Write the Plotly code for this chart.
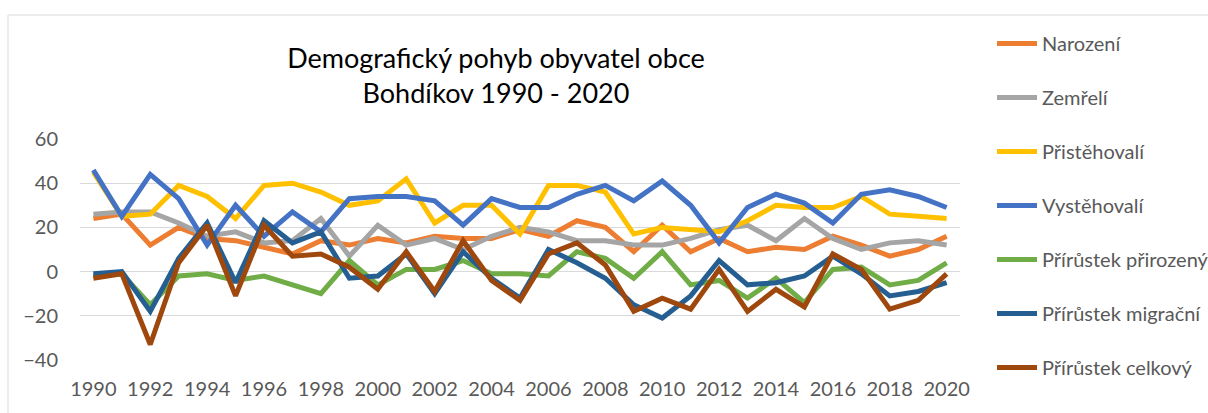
import plotly.graph_objects as go

years = list(range(1990, 2021))

narozeni = [24, 26, 12, 20, 15, 14, 11, 8, 14, 12, 15, 13, 16, 15, 15, 19, 16, 23, 20, 9,
            21, 9, 15, 9, 11, 10, 16, 12, 7, 10, 16]
zemreli = [26, 27, 27, 22, 16, 18, 13, 14, 24, 7, 21, 12, 15, 10, 16, 20, 18, 14, 14, 12,
           12, 15, 19, 21, 14, 24, 15, 10, 13, 14, 12]
pristehovali = [45, 25, 26, 39, 34, 24, 39, 40, 36, 30, 32, 42, 22, 30, 30, 17, 39, 39, 36, 17,
                20, 19, 18, 23, 30, 29, 29, 34, 26, 25, 24]
vystehovali = [46, 25, 44, 33, 12, 30, 16, 27, 18, 33, 34, 34, 32, 21, 33, 29, 29, 35, 39, 32,
               41, 30, 13, 29, 35, 31, 22, 35, 37, 34, 29]
prir_prirozeny = [-2, -1, -15, -2, -1, -4, -2, -6, -10, 5, -6, 1, 1, 5, -1, -1, -2, 9, 6, -3,
                  9, -6, -4, -12, -3, -14, 1, 2, -6, -4, 4]
prir_migracni = [-1, 0, -18, 6, 22, -5, 23, 13, 18, -3, -2, 8, -10, 9, -3, -12, 10, 4, -3, -15,
                 -21, -11, 5, -6, -5, -2, 7, -1, -11, -9, -5]
prir_celkovy = [-3, -1, -33, 4, 21, -11, 21, 7, 8, 2, -8, 9, -9, 14, -4, -13, 8, 13, 3, -18,
                -12, -17, 1, -18, -8, -16, 8, 1, -17, -13, -1]

series = [
    ("Narození", narozeni, "#ED7D31"),
    ("Zemřelí", zemreli, "#A5A5A5"),
    ("Přistěhovalí", pristehovali, "#FFC000"),
    ("Vystěhovalí", vystehovali, "#4472C4"),
    ("Přírůstek přirozený", prir_prirozeny, "#70AD47"),
    ("Přírůstek migrační", prir_migracni, "#255E91"),
    ("Přírůstek celkový", prir_celkovy, "#9E480E"),
]

FONT = "Lato"
TICK_COLOR = "#595959"

fig = go.Figure()
for i, (name, vals, color) in enumerate(series):
    fig.add_trace(go.Scatter(
        x=years, y=vals, name=name, mode="lines",
        line=dict(color=color, width=5),
        legendgroup=f"g{i}",
    ))

W, H = 1208, 413
ml, mr, mt, mb = 80, 248, 139, 53
pw = W - ml - mr
ph = H - mt - mb

fig.update_layout(
    width=W, height=H,
    margin=dict(l=ml, r=mr, t=mt, b=mb, pad=0, autoexpand=False),
    paper_bgcolor="white", plot_bgcolor="white",
    font=dict(family=FONT, color=TICK_COLOR),
    title=dict(
        text="Demografický pohyb obyvatel obce<br>Bohdíkov 1990 - 2020",
        font=dict(family=FONT, size=27, color="#000000"),
        x=(496 - ml) / pw, xref="paper", xanchor="center",
        y=1 - 68 / H, yref="container", yanchor="top",
    ),
    xaxis=dict(
        range=[1989.53, 2020.47],
        tickmode="array", tickvals=years[::2], ticktext=[str(y) for y in years[::2]],
        showgrid=False, zeroline=False, showline=False, ticks="",
        tickfont=dict(family=FONT, size=20, color=TICK_COLOR),
        ticklabelstandoff=15,
    ),
    yaxis=dict(
        range=[-40, 60], tickvals=[-40, -20, 0, 20, 40, 60],
        showgrid=True, gridcolor="#D9D9D9", gridwidth=1.3,
        zeroline=False, showline=False, ticks="",
        tickfont=dict(family=FONT, size=20, color=TICK_COLOR),
        ticklabelstandoff=21,
    ),
    legend=dict(
        x=(992 - ml) / pw, xanchor="left",
        y=1 + (mt - 24) / ph, yanchor="top",
        font=dict(family=FONT, size=20, color=TICK_COLOR),
        tracegroupgap=25, itemwidth=40,
        bgcolor="rgba(0,0,0,0)",
        maxheight=413,
    ),
    showlegend=True,
)

# chart-area frame
fig.add_shape(
    type="rect", xref="paper", yref="paper",
    x0=(8 - ml) / pw, x1=(1215 - ml) / pw,
    y0=-(425 - (mt + ph)) / ph,
    y1=(mt + ph - 15) / ph,
    line=dict(color="#D9D9D9", width=1), fillcolor="rgba(0,0,0,0)", layer="below",
)

fig.write_html("out.html", config={"displayModeBar": False},
               post_script="document.body.style.margin='0px';")
